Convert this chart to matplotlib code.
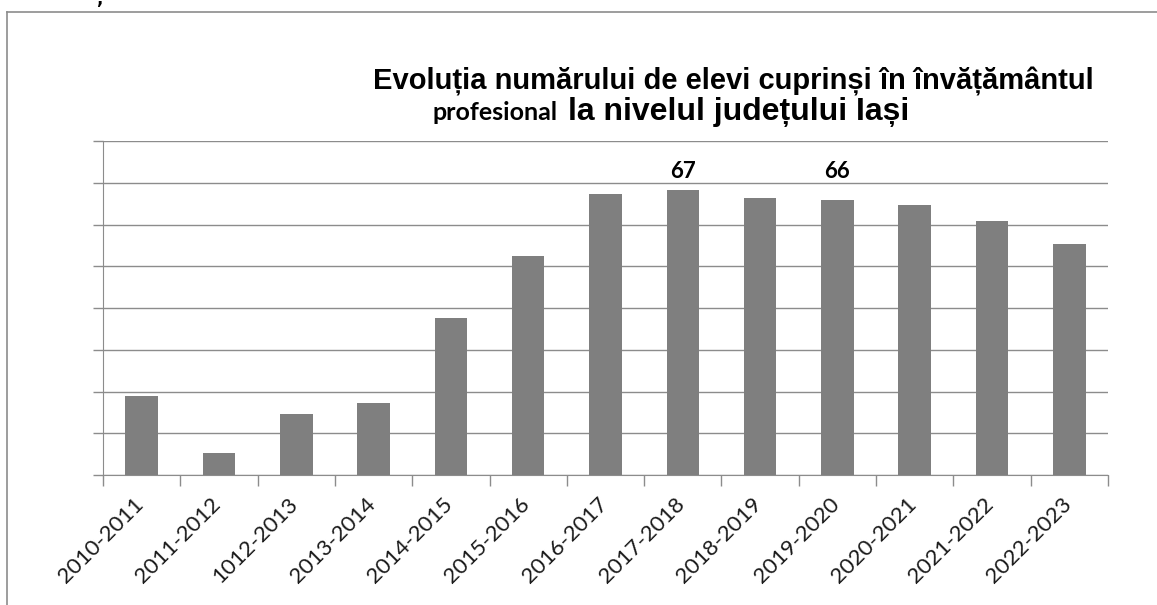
import matplotlib
matplotlib.use("Agg")
import matplotlib.pyplot as plt
from matplotlib.lines import Line2D
from matplotlib.transforms import ScaledTranslation

categories = ["2010-2011", "2011-2012", "1012-2013", "2013-2014", "2014-2015",
              "2015-2016", "2016-2017", "2017-2018", "2018-2019", "2019-2020",
              "2020-2021", "2021-2022", "2022-2023"]
values = [18.9, 5.3, 14.6, 17.2, 37.6, 52.5, 67.3, 68.3, 66.3, 65.9, 64.7, 60.8, 55.3]
label_idx = [7, 9]
label_texts = ["67", "66"]
title_line1 = "Evoluția numărului de elevi cuprinși în învățământul"
title_line2a = "profesional"
title_line2b = "la nivelul județului Iași"

W, H = 1157, 605
fig = plt.figure(figsize=(W / 100, H / 100), dpi=100)
ax = fig.add_axes([103 / W, 1 - 475 / H, (1108 - 103) / W, (475 - 141) / H])

grid_c = "#8c8c8c"
x = list(range(len(categories)))
ax.bar(x, values, width=0.42, color="#7f7f7f", zorder=3)
ax.set_xlim(-0.5, len(categories) - 0.5)
ax.set_ylim(0, 80)
ax.set_yticks(range(0, 81, 10))
ax.set_yticklabels([])
ax.yaxis.grid(True, color=grid_c, linewidth=1.0, zorder=0)
ax.tick_params(axis="y", length=7, color=grid_c, width=1)
ax.set_xticks(x)
ax.set_xticklabels(categories, rotation=45, ha="right", va="baseline",
                   rotation_mode="anchor",
                   fontsize=16, family=["Lato", "DejaVu Sans"], color="#1a1a1a")
ax.tick_params(axis="x", length=0, pad=22)
shift = ScaledTranslation(3 / 100, 0, fig.dpi_scale_trans)
for lbl in ax.get_xticklabels():
    lbl.set_transform(lbl.get_transform() + shift)
ax.set_xticks([i - 0.5 for i in range(len(categories) + 1)], minor=True)
ax.tick_params(axis="x", which="minor", length=8, color=grid_c, width=1)
for s in ["top", "right"]:
    ax.spines[s].set_visible(False)
ax.spines["left"].set_color(grid_c)
ax.spines["bottom"].set_color(grid_c)

for i, t in zip(label_idx, label_texts):
    ax.text(i, 72.6, t, ha="center", va="center", fontsize=16, fontweight="bold",
            family=["Lato", "DejaVu Sans"], color="#000000")

fig.text(733 / W, 1 - 82 / H, title_line1, ha="center", va="center", fontsize=21,
         fontweight="bold", family=["Liberation Sans", "DejaVu Sans"])
fig.text(433 / W, 1 - 112 / H, title_line2a, ha="left", va="center", fontsize=18,
         fontweight="bold", family=["Lato", "DejaVu Sans"])
fig.text(568 / W, 1 - 112 / H, title_line2b, ha="left", va="center", fontsize=23,
         fontweight="bold", family=["Liberation Sans", "DejaVu Sans"])

# outer chart frame (left and top edges visible)
fig.add_artist(Line2D([7 / W, 7 / W], [0, 1 - 12 / H], transform=fig.transFigure,
                      color=grid_c, linewidth=1.2))
fig.add_artist(Line2D([7 / W, 1], [1 - 12 / H, 1 - 12 / H], transform=fig.transFigure,
                      color=grid_c, linewidth=1.2))
fig.text(99 / W, 1 - 8 / H, ",", ha="center", va="bottom", fontsize=12,
         fontweight="bold")

fig.savefig("out.png", dpi=100)
